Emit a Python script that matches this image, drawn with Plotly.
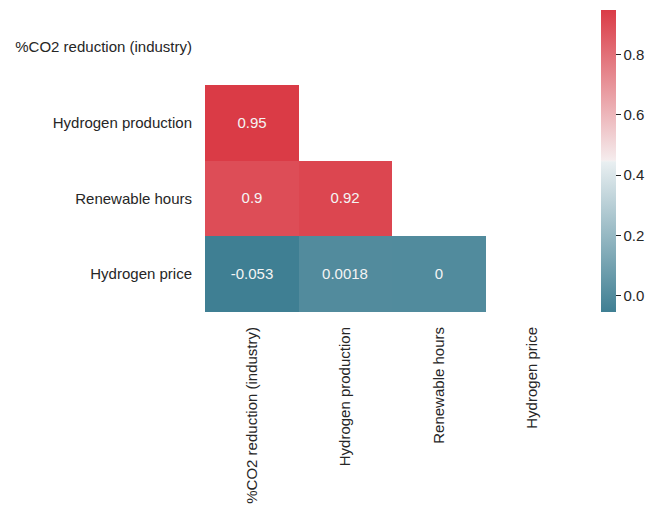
import plotly.graph_objects as go

# Variables in the correlation matrix
variables = [
    "%CO2 reduction (industry)",
    "Hydrogen production",
    "Renewable hours",
    "Hydrogen price",
]

# Lower-triangle correlations (upper triangle and diagonal masked with None)
row_co2 = [None, None, None, None]
row_h2_prod = [0.95, None, None, None]
row_renewable = [0.9, 0.92, None, None]
row_h2_price = [-0.053, 0.0018, 0, None]

corr = [row_co2, row_h2_prod, row_renewable, row_h2_price]
labels = [["" if v is None else f"{v:g}" for v in row] for row in corr]

# Diverging blue-to-red map with a light centre
colorscale = [
    [0.0, "#3f7f93"],
    [0.497, "#e9eff1"],
    [0.5, "#f2f2f2"],
    [0.503, "#f5eced"],
    [1.0, "#da3b46"],
]

font_family = "Liberation Sans, Arial, sans-serif"
text_color = "#262626"
font_size = 15

idx = list(range(len(variables)))

fig = go.Figure(
    go.Heatmap(
        z=corr,
        x=idx,
        y=idx,
        text=labels,
        texttemplate="%{text}",
        textfont=dict(family=font_family, size=font_size, color="#f4f4f4"),
        colorscale=colorscale,
        zmin=-0.053,
        zmax=0.95,
        hoverongaps=False,
        xgap=0,
        ygap=0,
        colorbar=dict(
            x=1.058,
            xanchor="left",
            y=0.5,
            yanchor="middle",
            len=0.997,
            lenmode="fraction",
            thickness=15,
            xpad=0,
            ypad=0,
            outlinewidth=0,
            tickvals=[0.0, 0.2, 0.4, 0.6, 0.8],
            ticktext=["0.0", "0.2", "0.4", "0.6", "0.8"],
            ticks="outside",
            ticklen=5,
            tickwidth=1,
            tickcolor=text_color,
            tickfont=dict(family=font_family, size=font_size, color=text_color),
        ),
    )
)

fig.update_xaxes(
    tickmode="array",
    tickvals=idx,
    ticktext=variables,
    tickangle=-90,
    range=[-0.5, 3.5],
    showgrid=False,
    zeroline=False,
    showline=False,
    ticks="",
    automargin=False,
    ticklabelstandoff=11,
    tickfont=dict(family=font_family, size=font_size, color=text_color),
)
fig.update_yaxes(
    tickmode="array",
    tickvals=idx,
    ticktext=variables,
    range=[3.5, -0.5],
    showgrid=False,
    zeroline=False,
    showline=False,
    ticks="",
    automargin=False,
    ticklabelstandoff=12,
    tickfont=dict(family=font_family, size=font_size, color=text_color),
)

fig.update_layout(
    width=650,
    height=506,
    margin=dict(l=205, r=71, t=9, b=194, autoexpand=False),
    paper_bgcolor="white",
    plot_bgcolor="white",
    font=dict(family=font_family, color=text_color),
)

fig.write_html("out.html")
